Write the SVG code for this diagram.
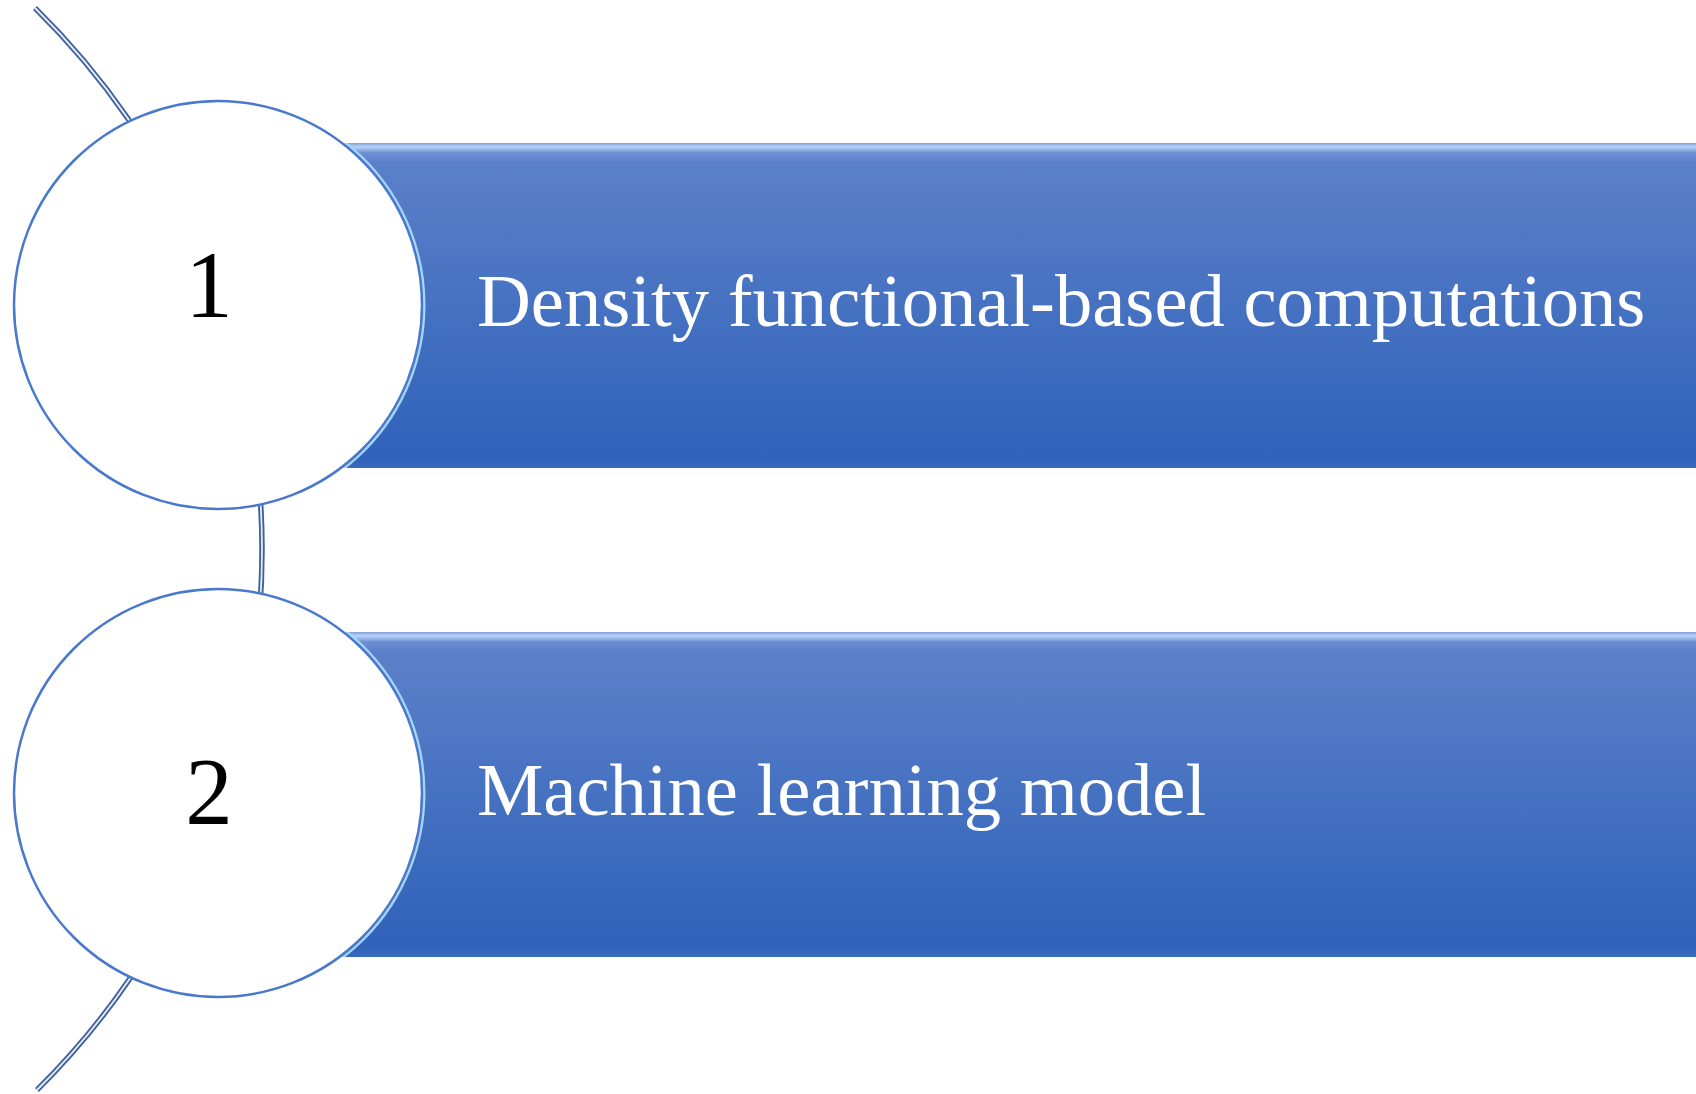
<svg xmlns="http://www.w3.org/2000/svg" width="1696" height="1094" viewBox="0 0 1696 1094">
  <defs>
    <linearGradient id="barGrad" x1="0" y1="0" x2="0" y2="1">
      <stop offset="0" stop-color="#7f9fd8"/>
      <stop offset="0.012" stop-color="#b9d4f8"/>
      <stop offset="0.03" stop-color="#6d90d4"/>
      <stop offset="0.06" stop-color="#5b80c9"/>
      <stop offset="0.97" stop-color="#2f62b9"/>
      <stop offset="1" stop-color="#3a6bc0"/>
    </linearGradient>
    <clipPath id="clip1"><rect x="218" y="143" width="1478" height="325"/></clipPath>
    <clipPath id="clip2"><rect x="218" y="632" width="1478" height="325"/></clipPath>
  </defs>
  <style>
    .bar { fill: url(#barGrad); }
    .ring { fill: #ffffff; stroke: #4a78cc; stroke-width: 2.5; }
    .glow { fill: none; stroke: #a6d6f7; stroke-width: 3; }
    .num { font-family: "Liberation Serif", "Times New Roman", serif; font-size: 95px; fill: #000000; text-anchor: middle; }
    .label { font-family: "Liberation Serif", "Times New Roman", serif; font-size: 74.6px; fill: #ffffff; }
    .arcOuter { fill: none; stroke: #41609c; stroke-width: 5.5; stroke-linecap: butt; }
    .arcInner { fill: none; stroke: #e4ecf7; stroke-width: 1.8; stroke-linecap: butt; }
  </style>
  <rect width="1696" height="1094" fill="#ffffff"/>
  <g id="connectors">
    <path class="arcOuter" d="M35,8 A760.5,760.5 0 0 1 37,1090"/>
    <path class="arcInner" d="M35,8 A760.5,760.5 0 0 1 37,1090"/>
  </g>
  <g id="node1">
    <rect class="bar" x="218" y="143" width="1478" height="325"/>
    <circle class="glow" cx="218" cy="305" r="206" clip-path="url(#clip1)"/>
    <circle class="ring" cx="218" cy="305" r="204"/>
    <text class="num" x="209" y="317">1</text>
    <text class="label" x="477" y="326">Density functional-based computations</text>
  </g>
  <g id="node2">
    <rect class="bar" x="218" y="632" width="1478" height="325"/>
    <circle class="glow" cx="218" cy="793" r="206" clip-path="url(#clip2)"/>
    <circle class="ring" cx="218" cy="793" r="204"/>
    <text class="num" x="209" y="824">2</text>
    <text class="label" x="477" y="815">Machine learning model</text>
  </g>
</svg>
